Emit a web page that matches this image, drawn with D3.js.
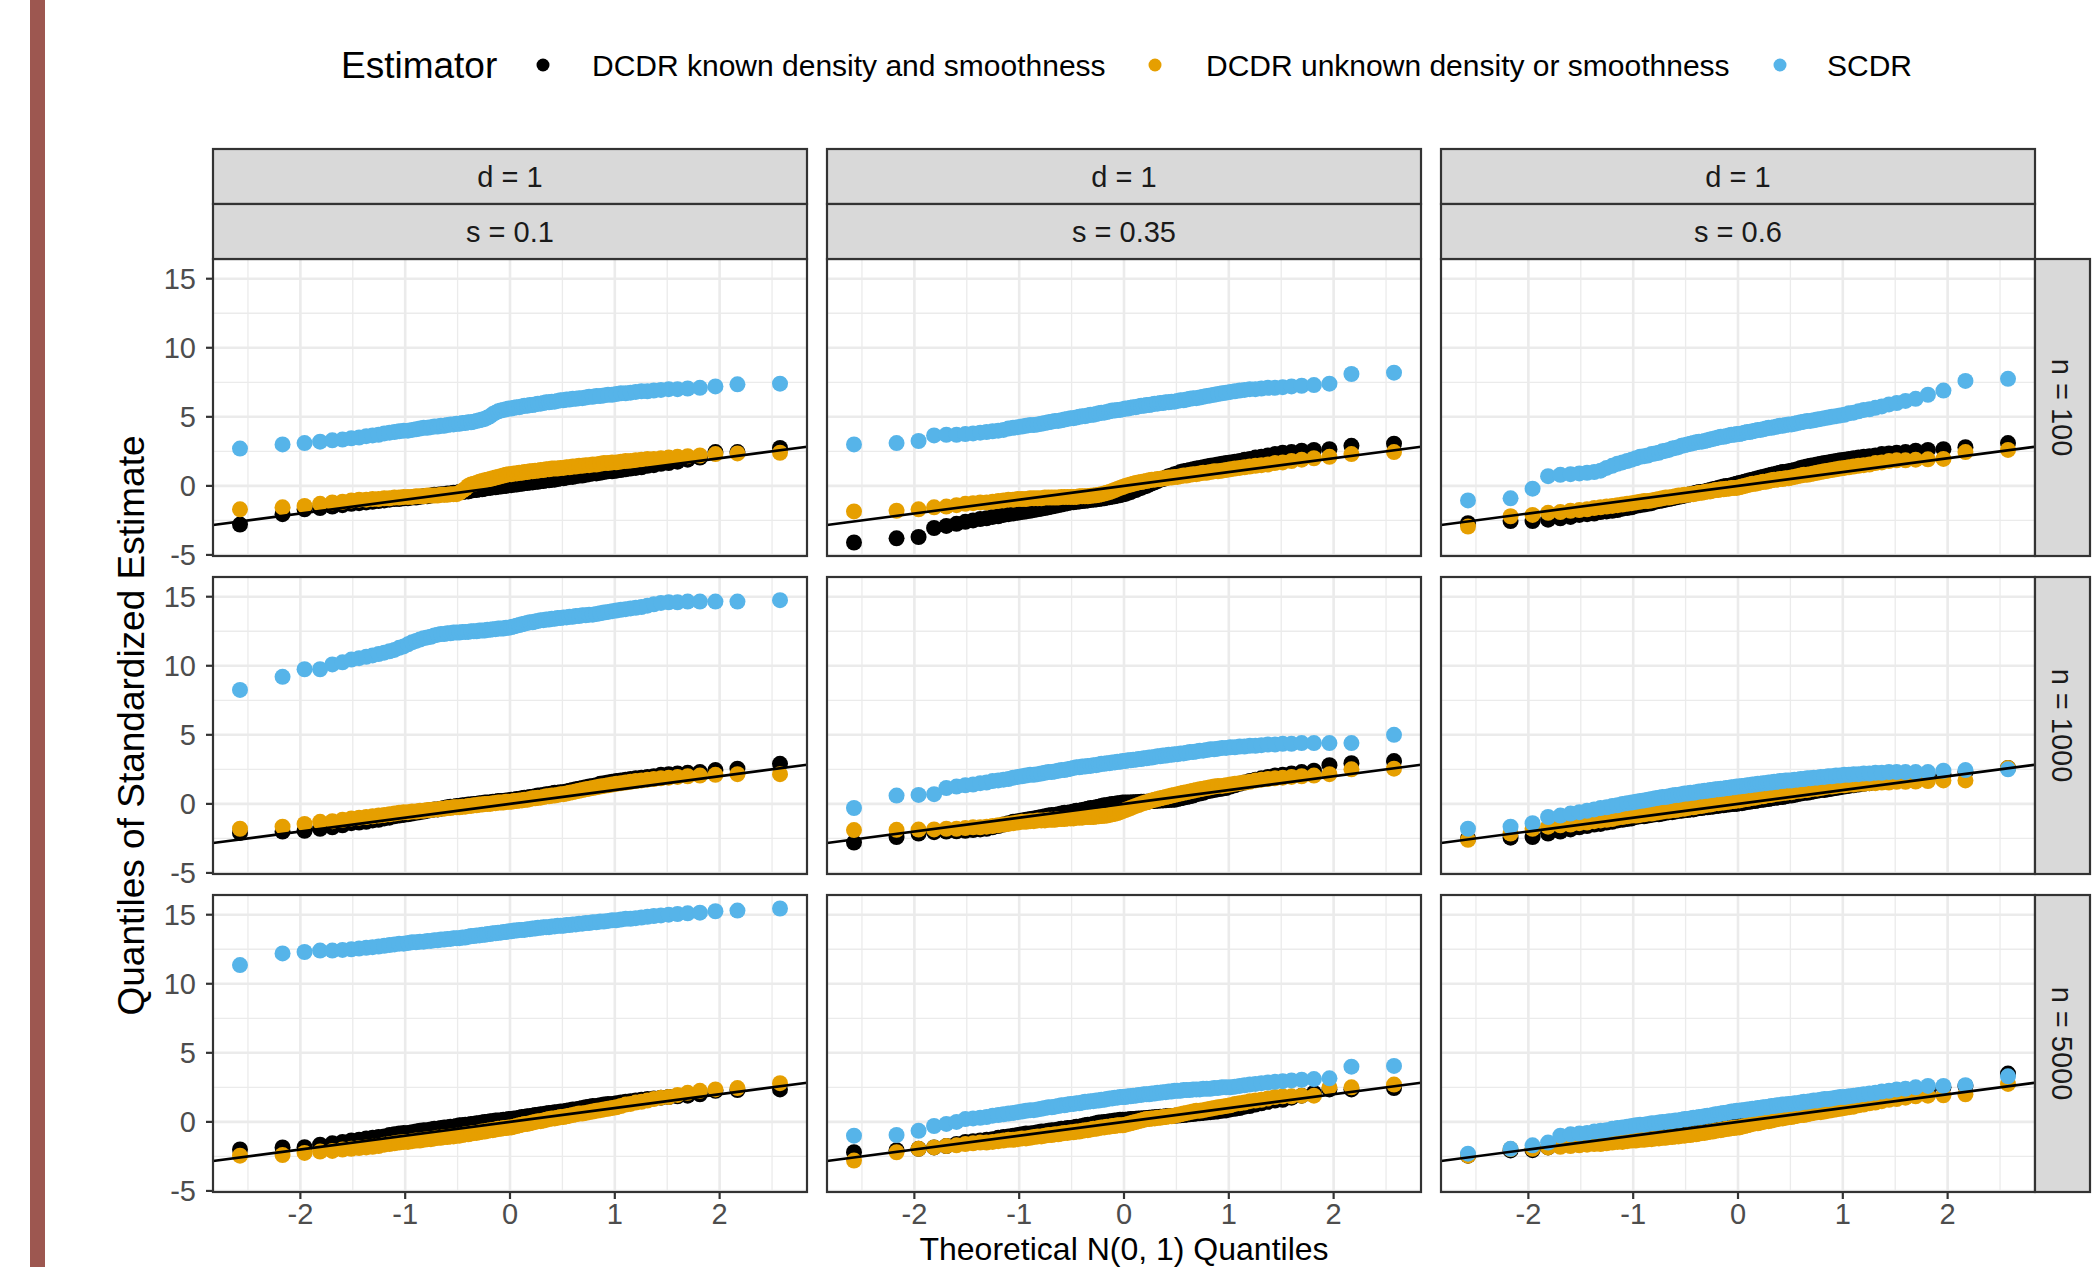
<!DOCTYPE html>
<html>
<head>
<meta charset="utf-8">
<script src="https://cdn.jsdelivr.net/npm/d3@7"></script>
<style>
  body { margin: 0; background: #fff; overflow: hidden; }
  svg { display: block; }
</style>
</head>
<body>
<div id="chart"></div>
<script>
// theoretical N(0,1) quantiles for the 100 sorted estimates in every panel
var qTheory = [-2.576,-2.170,-1.960,-1.812,-1.695,-1.598,-1.514,-1.440,-1.372,-1.311,
  -1.254,-1.200,-1.150,-1.103,-1.058,-1.015,-0.974,-0.935,-0.896,-0.860,
  -0.824,-0.789,-0.755,-0.722,-0.690,-0.659,-0.628,-0.598,-0.568,-0.539,
  -0.510,-0.482,-0.454,-0.426,-0.399,-0.372,-0.345,-0.319,-0.292,-0.266,
  -0.240,-0.215,-0.189,-0.164,-0.138,-0.113,-0.088,-0.063,-0.038,-0.013,
  0.013,0.038,0.063,0.088,0.113,0.138,0.164,0.189,0.215,0.240,
  0.266,0.292,0.319,0.345,0.372,0.399,0.426,0.454,0.482,0.510,
  0.539,0.568,0.598,0.628,0.659,0.690,0.722,0.755,0.789,0.824,
  0.860,0.896,0.935,0.974,1.015,1.058,1.103,1.150,1.200,1.254,
  1.311,1.372,1.440,1.514,1.598,1.695,1.812,1.960,2.170,2.576];

var dLabels = ["d = 1", "d = 1", "d = 1"];
var sLabels = ["s = 0.1", "s = 0.35", "s = 0.6"];
var nLabels = ["n = 100", "n = 1000", "n = 5000"];
var estimatorNames = ["DCDR known density and smoothness", "DCDR unknown density or smoothness", "SCDR"];
var estimatorColors = ["#000000", "#E69F00", "#56B4E9"];
var xTicks = [-2, -1, 0, 1, 2];
var yTicks = [-5, 0, 5, 10, 15];

// n = 100
var known_n100_s1 = [-2.8,-2.05,-1.7,-1.6,-1.5,-1.4,-1.3,-1.25,-1.2,-1.15,-1.1,-1.05,-1.0,-0.95,-0.95,-0.9,-0.9,-0.85,-0.85,-0.8,
  -0.75,-0.75,-0.7,-0.65,-0.65,-0.6,-0.6,-0.55,-0.55,-0.5,-0.5,-0.45,-0.45,-0.4,-0.4,-0.35,-0.3,-0.3,-0.25,-0.25,
  -0.2,-0.15,-0.15,-0.1,-0.1,-0.05,-0.05,0,0,0.05,0.05,0.1,0.1,0.15,0.15,0.2,0.2,0.25,0.25,0.3,
  0.3,0.35,0.35,0.4,0.4,0.45,0.45,0.5,0.55,0.55,0.6,0.65,0.65,0.7,0.75,0.75,0.8,0.85,0.9,0.9,
  0.95,1.0,1.05,1.05,1.1,1.15,1.2,1.25,1.3,1.35,1.45,1.5,1.6,1.65,1.75,1.9,2.05,2.45,2.45,2.75];
var unknown_n100_s1 = [-1.7,-1.55,-1.45,-1.3,-1.2,-1.15,-1.05,-1.0,-1.0,-0.95,-0.95,-0.9,-0.9,-0.85,-0.85,-0.8,-0.8,-0.8,-0.75,-0.75,
  -0.75,-0.7,-0.7,-0.7,-0.7,-0.65,-0.65,-0.65,-0.6,-0.6,-0.6,-0.5,-0.35,-0.2,0,0.1,0.15,0.2,0.3,0.35,
  0.4,0.45,0.5,0.55,0.6,0.65,0.7,0.75,0.8,0.85,0.85,0.9,0.9,0.95,0.95,1.0,1.0,1.05,1.05,1.1,
  1.1,1.15,1.15,1.2,1.2,1.25,1.25,1.25,1.3,1.3,1.35,1.35,1.4,1.4,1.45,1.45,1.5,1.5,1.55,1.55,
  1.6,1.65,1.65,1.7,1.7,1.75,1.8,1.8,1.85,1.9,1.95,1.95,2.0,2.05,2.1,2.15,2.2,2.3,2.35,2.4];
var scdr_n100_s1 = [2.7,3.0,3.1,3.2,3.3,3.35,3.45,3.5,3.6,3.65,3.7,3.8,3.85,3.9,3.95,4.0,4.0,4.05,4.1,4.15,
  4.2,4.2,4.25,4.3,4.3,4.35,4.35,4.4,4.45,4.45,4.5,4.5,4.55,4.55,4.6,4.6,4.65,4.7,4.75,4.8,
  4.85,4.95,5.05,5.2,5.3,5.4,5.45,5.5,5.55,5.6,5.6,5.65,5.7,5.7,5.75,5.8,5.8,5.85,5.85,5.9,
  5.95,5.95,6.0,6.05,6.05,6.1,6.1,6.15,6.2,6.2,6.25,6.25,6.3,6.3,6.35,6.35,6.4,6.45,6.45,6.5,
  6.5,6.55,6.6,6.6,6.65,6.7,6.7,6.75,6.8,6.85,6.85,6.9,6.95,7.0,7.0,7.05,7.1,7.2,7.35,7.4];
var known_n100_s35 = [-4.1,-3.8,-3.7,-3.05,-2.9,-2.75,-2.6,-2.5,-2.4,-2.35,-2.25,-2.2,-2.1,-2.05,-2.0,-1.95,-1.9,-1.85,-1.8,-1.75,
  -1.7,-1.65,-1.6,-1.55,-1.5,-1.45,-1.4,-1.35,-1.3,-1.25,-1.2,-1.18,-1.15,-1.13,-1.1,-1.08,-1.05,-1.02,-1.0,-0.98,
  -0.95,-0.92,-0.9,-0.85,-0.82,-0.78,-0.75,-0.7,-0.67,-0.62,-0.58,-0.5,-0.45,-0.35,-0.3,-0.2,-0.15,-0.05,0,0.1,
  0.2,0.25,0.35,0.45,0.5,0.6,0.7,0.75,0.85,0.9,1.0,1.05,1.1,1.15,1.2,1.25,1.3,1.35,1.4,1.45,
  1.5,1.55,1.6,1.65,1.7,1.75,1.8,1.9,1.95,2.05,2.1,2.2,2.3,2.4,2.45,2.55,2.6,2.65,2.9,3.05];
var unknown_n100_s35 = [-1.85,-1.8,-1.7,-1.55,-1.5,-1.4,-1.3,-1.25,-1.2,-1.2,-1.15,-1.1,-1.05,-1.0,-1.0,-0.95,-0.95,-0.95,-0.9,-0.9,
  -0.9,-0.9,-0.85,-0.85,-0.85,-0.85,-0.85,-0.8,-0.8,-0.8,-0.8,-0.8,-0.8,-0.75,-0.75,-0.75,-0.75,-0.72,-0.7,-0.68,
  -0.65,-0.6,-0.55,-0.5,-0.45,-0.38,-0.3,-0.22,-0.15,-0.08,0,0.05,0.1,0.15,0.2,0.25,0.28,0.32,0.35,0.4,
  0.45,0.45,0.5,0.5,0.55,0.55,0.6,0.6,0.65,0.65,0.7,0.75,0.75,0.8,0.85,0.85,0.9,0.95,0.95,1.0,
  1.05,1.05,1.1,1.15,1.2,1.25,1.3,1.35,1.4,1.45,1.5,1.55,1.65,1.7,1.8,1.9,2.0,2.1,2.3,2.45];
var scdr_n100_s35 = [3.0,3.1,3.25,3.65,3.7,3.7,3.75,3.8,3.85,3.9,3.95,4.0,4.05,4.15,4.2,4.25,4.3,4.35,4.4,4.4,
  4.45,4.5,4.55,4.6,4.65,4.7,4.7,4.75,4.8,4.85,4.9,4.9,4.95,5.0,5.05,5.05,5.1,5.15,5.15,5.2,
  5.25,5.3,5.3,5.35,5.4,5.45,5.45,5.5,5.5,5.55,5.6,5.6,5.65,5.7,5.7,5.75,5.8,5.8,5.85,5.85,
  5.9,5.95,5.95,6.0,6.0,6.05,6.05,6.1,6.1,6.15,6.2,6.2,6.25,6.3,6.35,6.35,6.4,6.45,6.5,6.55,
  6.6,6.65,6.7,6.75,6.8,6.85,6.9,6.95,7.0,7.0,7.05,7.1,7.1,7.15,7.2,7.25,7.3,7.4,8.1,8.2];
var known_n100_s6 = [-2.7,-2.55,-2.55,-2.45,-2.35,-2.25,-2.1,-2.05,-2.0,-1.9,-1.85,-1.8,-1.75,-1.65,-1.6,-1.55,-1.45,-1.4,-1.35,-1.3,
  -1.25,-1.15,-1.1,-1.05,-1.0,-0.95,-0.9,-0.85,-0.8,-0.75,-0.7,-0.65,-0.6,-0.55,-0.5,-0.45,-0.45,-0.4,-0.35,-0.3,
  -0.25,-0.2,-0.15,-0.1,-0.05,0,0,0.05,0.1,0.15,0.2,0.25,0.3,0.35,0.4,0.45,0.5,0.55,0.6,0.65,
  0.7,0.75,0.8,0.85,0.9,0.95,1.0,1.0,1.05,1.1,1.15,1.2,1.3,1.35,1.4,1.45,1.5,1.55,1.6,1.65,
  1.7,1.75,1.8,1.85,1.9,1.95,2.0,2.05,2.1,2.15,2.2,2.3,2.35,2.4,2.45,2.55,2.6,2.65,2.8,3.1];
var unknown_n100_s6 = [-2.95,-2.2,-2.1,-1.95,-1.9,-1.8,-1.75,-1.7,-1.6,-1.55,-1.5,-1.45,-1.4,-1.35,-1.3,-1.25,-1.2,-1.15,-1.1,-1.1,
  -1.05,-1.0,-0.95,-0.9,-0.85,-0.85,-0.8,-0.75,-0.7,-0.7,-0.65,-0.65,-0.6,-0.6,-0.55,-0.5,-0.5,-0.45,-0.4,-0.4,
  -0.35,-0.3,-0.3,-0.25,-0.25,-0.2,-0.2,-0.15,-0.15,-0.15,-0.1,-0.05,0,0.05,0.1,0.15,0.15,0.2,0.25,0.3,
  0.3,0.35,0.4,0.45,0.45,0.5,0.5,0.55,0.55,0.6,0.65,0.7,0.75,0.8,0.8,0.85,0.9,0.95,1.0,1.05,
  1.1,1.15,1.2,1.25,1.3,1.35,1.4,1.45,1.5,1.55,1.65,1.7,1.8,1.85,1.85,1.9,1.92,1.95,2.45,2.6];
var scdr_n100_s6 = [-1.05,-0.9,-0.2,0.7,0.8,0.85,0.9,0.95,1.0,1.1,1.3,1.45,1.6,1.7,1.8,1.9,2.0,2.1,2.15,2.2,
  2.3,2.35,2.4,2.5,2.55,2.6,2.7,2.75,2.8,2.9,2.95,3.0,3.05,3.1,3.15,3.2,3.2,3.25,3.3,3.35,
  3.4,3.45,3.5,3.55,3.55,3.6,3.65,3.7,3.7,3.75,3.75,3.8,3.85,3.9,3.9,3.95,4.0,4.05,4.05,4.1,
  4.15,4.2,4.2,4.25,4.3,4.35,4.35,4.4,4.45,4.45,4.5,4.55,4.6,4.65,4.7,4.7,4.75,4.8,4.85,4.9,
  4.95,5.0,5.05,5.1,5.15,5.25,5.3,5.4,5.5,5.55,5.65,5.75,5.9,6.0,6.15,6.3,6.6,6.9,7.6,7.75];

// n = 1000
var known_n1000_s1 = [-2.1,-2.0,-1.95,-1.8,-1.7,-1.55,-1.4,-1.35,-1.3,-1.2,-1.15,-1.05,-1.0,-0.9,-0.85,-0.8,-0.75,-0.7,-0.65,-0.6,
  -0.55,-0.5,-0.45,-0.4,-0.4,-0.35,-0.3,-0.25,-0.2,-0.2,-0.15,-0.15,-0.1,-0.1,-0.05,-0.05,0,0,0.05,0.05,
  0.1,0.1,0.1,0.15,0.15,0.2,0.2,0.2,0.25,0.25,0.3,0.3,0.35,0.35,0.4,0.45,0.45,0.5,0.5,0.55,
  0.6,0.6,0.65,0.7,0.7,0.75,0.8,0.8,0.85,0.85,0.9,0.95,1.0,1.05,1.1,1.15,1.2,1.25,1.3,1.35,
  1.45,1.5,1.55,1.6,1.65,1.7,1.75,1.8,1.85,1.9,1.95,2.0,2.1,2.15,2.2,2.25,2.3,2.45,2.55,2.9];
var unknown_n1000_s1 = [-1.8,-1.65,-1.45,-1.3,-1.25,-1.15,-1.05,-1.0,-0.95,-0.9,-0.85,-0.8,-0.75,-0.7,-0.65,-0.6,-0.6,-0.55,-0.55,-0.5,
  -0.5,-0.45,-0.45,-0.4,-0.4,-0.35,-0.35,-0.3,-0.3,-0.25,-0.25,-0.25,-0.2,-0.2,-0.15,-0.15,-0.1,-0.1,-0.05,-0.05,
  0,0,0,0.05,0.05,0.1,0.1,0.1,0.15,0.15,0.15,0.2,0.2,0.25,0.25,0.3,0.3,0.35,0.4,0.4,
  0.45,0.45,0.5,0.55,0.55,0.6,0.6,0.65,0.7,0.7,0.75,0.8,0.85,0.9,0.95,1.0,1.05,1.1,1.15,1.2,
  1.25,1.3,1.35,1.4,1.45,1.5,1.55,1.6,1.65,1.7,1.75,1.8,1.85,1.9,1.95,2.0,2.05,2.1,2.15,2.15];
var scdr_n1000_s1 = [8.25,9.2,9.75,9.75,10.1,10.25,10.45,10.55,10.65,10.75,10.85,10.95,11.05,11.15,11.3,11.4,11.55,11.7,11.8,11.9,
  12.0,12.05,12.1,12.2,12.25,12.3,12.3,12.35,12.35,12.4,12.4,12.4,12.45,12.45,12.45,12.5,12.5,12.5,12.55,12.55,
  12.55,12.6,12.6,12.65,12.65,12.7,12.7,12.7,12.75,12.75,12.8,12.85,12.9,12.95,13.0,13.05,13.1,13.15,13.15,13.2,
  13.25,13.3,13.3,13.35,13.35,13.4,13.4,13.45,13.45,13.5,13.5,13.55,13.55,13.6,13.6,13.65,13.65,13.7,13.7,13.75,
  13.8,13.85,13.9,13.95,14.0,14.05,14.1,14.15,14.2,14.25,14.35,14.45,14.55,14.6,14.6,14.65,14.65,14.65,14.65,14.75];
var known_n1000_s35 = [-2.8,-2.4,-2.15,-2.05,-2.0,-1.98,-1.95,-1.9,-1.85,-1.8,-1.7,-1.6,-1.5,-1.4,-1.3,-1.25,-1.2,-1.15,-1.1,-1.05,
  -1.0,-0.95,-0.9,-0.85,-0.8,-0.8,-0.75,-0.7,-0.65,-0.65,-0.6,-0.55,-0.5,-0.5,-0.45,-0.4,-0.35,-0.3,-0.3,-0.25,
  -0.2,-0.15,-0.1,-0.1,-0.05,0,0,0.05,0.05,0.1,0.1,0.1,0.1,0.12,0.12,0.14,0.15,0.15,0.16,0.18,
  0.2,0.2,0.22,0.24,0.25,0.26,0.28,0.3,0.3,0.35,0.4,0.45,0.5,0.55,0.6,0.7,0.75,0.8,0.9,0.95,
  1.0,1.05,1.1,1.15,1.25,1.35,1.45,1.55,1.65,1.75,1.85,1.95,2.05,2.1,2.2,2.3,2.4,2.8,2.95,3.1];
var unknown_n1000_s35 = [-1.9,-1.88,-1.86,-1.85,-1.8,-1.8,-1.75,-1.7,-1.7,-1.65,-1.6,-1.55,-1.5,-1.45,-1.4,-1.35,-1.3,-1.3,-1.25,-1.25,
  -1.2,-1.2,-1.2,-1.15,-1.15,-1.15,-1.1,-1.1,-1.1,-1.05,-1.05,-1.05,-1.0,-1.0,-1.0,-0.95,-0.95,-0.95,-0.95,-0.92,
  -0.9,-0.88,-0.86,-0.84,-0.8,-0.76,-0.72,-0.66,-0.6,-0.52,-0.45,-0.37,-0.3,-0.22,-0.15,-0.08,0,0.06,0.12,0.18,
  0.25,0.3,0.35,0.4,0.45,0.5,0.55,0.6,0.65,0.7,0.75,0.8,0.85,0.9,0.95,1.0,1.05,1.1,1.15,1.2,
  1.25,1.3,1.3,1.35,1.4,1.45,1.5,1.55,1.6,1.7,1.75,1.8,1.85,1.9,1.95,2.0,2.05,2.15,2.5,2.55];
var scdr_n1000_s35 = [-0.3,0.6,0.65,0.7,1.15,1.25,1.35,1.4,1.5,1.55,1.65,1.7,1.75,1.8,1.9,1.95,2.0,2.05,2.1,2.1,
  2.15,2.2,2.25,2.3,2.3,2.35,2.4,2.45,2.45,2.5,2.55,2.6,2.65,2.65,2.7,2.7,2.75,2.75,2.8,2.8,
  2.85,2.9,2.9,2.95,2.95,3.0,3.0,3.05,3.05,3.1,3.1,3.15,3.15,3.2,3.2,3.25,3.25,3.3,3.3,3.35,
  3.35,3.4,3.45,3.45,3.5,3.5,3.55,3.55,3.6,3.6,3.65,3.65,3.7,3.75,3.75,3.8,3.85,3.85,3.9,3.95,
  3.95,4.0,4.05,4.05,4.1,4.1,4.15,4.15,4.2,4.2,4.25,4.3,4.3,4.35,4.35,4.4,4.4,4.4,4.4,5.0];
var known_n1000_s6 = [-2.5,-2.45,-2.4,-2.15,-2.0,-1.85,-1.7,-1.6,-1.5,-1.45,-1.35,-1.3,-1.2,-1.15,-1.1,-1.05,-0.95,-0.9,-0.9,-0.85,
  -0.8,-0.75,-0.75,-0.7,-0.65,-0.6,-0.6,-0.55,-0.5,-0.5,-0.45,-0.45,-0.4,-0.4,-0.35,-0.3,-0.3,-0.25,-0.25,-0.2,
  -0.2,-0.15,-0.15,-0.1,-0.1,-0.05,-0.05,0,0,0,0.05,0.05,0.1,0.15,0.15,0.2,0.2,0.25,0.3,0.3,
  0.35,0.35,0.4,0.45,0.45,0.5,0.5,0.55,0.6,0.6,0.65,0.7,0.75,0.8,0.8,0.85,0.9,0.95,1.0,1.0,
  1.05,1.1,1.15,1.2,1.25,1.3,1.35,1.4,1.45,1.5,1.55,1.6,1.65,1.7,1.75,1.8,1.9,2.15,2.3,2.6];
var unknown_n1000_s6 = [-2.6,-2.15,-1.8,-1.65,-1.55,-1.5,-1.4,-1.35,-1.25,-1.2,-1.15,-1.1,-1.0,-0.95,-0.9,-0.85,-0.85,-0.8,-0.75,-0.7,
  -0.7,-0.65,-0.6,-0.55,-0.5,-0.5,-0.45,-0.45,-0.4,-0.35,-0.35,-0.3,-0.25,-0.25,-0.2,-0.15,-0.15,-0.1,-0.05,-0.05,
  0,0.05,0.05,0.1,0.1,0.15,0.15,0.2,0.2,0.25,0.25,0.3,0.35,0.35,0.4,0.45,0.45,0.5,0.55,0.55,
  0.6,0.65,0.65,0.7,0.75,0.75,0.8,0.8,0.85,0.85,0.9,0.95,0.95,1.0,1.0,1.05,1.1,1.1,1.15,1.2,
  1.25,1.25,1.3,1.35,1.35,1.4,1.4,1.45,1.45,1.5,1.5,1.55,1.55,1.6,1.6,1.62,1.65,1.7,1.7,2.6];
var scdr_n1000_s6 = [-1.8,-1.65,-1.4,-0.95,-0.85,-0.7,-0.6,-0.5,-0.4,-0.3,-0.25,-0.15,-0.1,0,0.05,0.1,0.15,0.2,0.25,0.3,
  0.35,0.4,0.45,0.5,0.5,0.55,0.6,0.65,0.65,0.7,0.75,0.75,0.8,0.8,0.85,0.9,0.9,0.95,0.95,1.0,
  1.0,1.05,1.05,1.1,1.1,1.15,1.15,1.2,1.2,1.25,1.25,1.3,1.3,1.35,1.35,1.4,1.4,1.45,1.45,1.5,
  1.5,1.55,1.55,1.6,1.6,1.65,1.65,1.7,1.7,1.7,1.75,1.75,1.8,1.8,1.85,1.85,1.9,1.9,1.95,1.95,
  2.0,2.0,2.05,2.05,2.1,2.1,2.15,2.15,2.2,2.2,2.25,2.25,2.3,2.3,2.3,2.3,2.3,2.4,2.45,2.5];

// n = 5000
var known_n5000_s1 = [-2.0,-1.85,-1.83,-1.65,-1.55,-1.45,-1.35,-1.3,-1.2,-1.15,-1.1,-1.05,-0.95,-0.9,-0.85,-0.8,-0.8,-0.75,-0.7,-0.65,
  -0.6,-0.6,-0.55,-0.5,-0.5,-0.45,-0.4,-0.4,-0.35,-0.35,-0.3,-0.25,-0.25,-0.2,-0.2,-0.15,-0.15,-0.1,-0.1,-0.05,
  0,0,0.05,0.05,0.1,0.1,0.1,0.15,0.15,0.2,0.2,0.25,0.25,0.3,0.35,0.35,0.4,0.4,0.45,0.5,
  0.5,0.55,0.55,0.6,0.65,0.65,0.7,0.7,0.75,0.75,0.8,0.85,0.9,0.9,0.95,1.0,1.05,1.1,1.15,1.15,
  1.2,1.25,1.3,1.3,1.35,1.4,1.45,1.5,1.55,1.6,1.65,1.7,1.75,1.8,1.85,1.9,2.0,2.25,2.3,2.35];
var unknown_n5000_s1 = [-2.45,-2.4,-2.25,-2.15,-2.1,-2.0,-1.95,-1.9,-1.85,-1.8,-1.75,-1.65,-1.6,-1.55,-1.5,-1.45,-1.45,-1.4,-1.35,-1.35,
  -1.3,-1.25,-1.25,-1.2,-1.15,-1.15,-1.1,-1.1,-1.05,-1.05,-1.0,-1.0,-0.95,-0.9,-0.9,-0.85,-0.8,-0.8,-0.75,-0.7,
  -0.7,-0.65,-0.6,-0.6,-0.55,-0.5,-0.5,-0.45,-0.45,-0.4,-0.4,-0.35,-0.3,-0.25,-0.2,-0.15,-0.15,-0.1,-0.05,0,
  0.05,0.05,0.1,0.15,0.2,0.25,0.25,0.3,0.35,0.35,0.4,0.45,0.5,0.55,0.6,0.6,0.65,0.7,0.75,0.8,
  0.85,0.9,0.95,1.0,1.05,1.15,1.25,1.3,1.4,1.45,1.55,1.65,1.75,1.8,1.95,2.1,2.25,2.35,2.45,2.8];
var scdr_n5000_s1 = [11.35,12.2,12.3,12.4,12.4,12.45,12.5,12.55,12.6,12.65,12.7,12.75,12.8,12.85,12.9,12.9,12.95,13.0,13.0,13.05,
  13.05,13.1,13.1,13.15,13.15,13.2,13.2,13.25,13.25,13.3,13.3,13.3,13.35,13.35,13.4,13.45,13.45,13.5,13.5,13.55,
  13.55,13.6,13.6,13.65,13.65,13.7,13.7,13.75,13.75,13.8,13.8,13.85,13.85,13.9,13.9,13.9,13.95,13.95,14.0,14.0,
  14.05,14.05,14.1,14.1,14.1,14.15,14.15,14.2,14.2,14.2,14.25,14.25,14.3,14.3,14.35,14.35,14.4,14.4,14.45,14.45,
  14.5,14.5,14.55,14.6,14.6,14.65,14.7,14.7,14.75,14.8,14.85,14.9,14.95,15.0,15.05,15.1,15.15,15.25,15.3,15.45];
var known_n5000_s35 = [-2.2,-2.05,-1.95,-1.85,-1.75,-1.6,-1.45,-1.4,-1.35,-1.3,-1.25,-1.15,-1.1,-1.05,-1.0,-0.95,-0.9,-0.85,-0.85,-0.8,
  -0.75,-0.7,-0.7,-0.65,-0.6,-0.6,-0.55,-0.5,-0.5,-0.45,-0.45,-0.4,-0.35,-0.35,-0.3,-0.25,-0.2,-0.2,-0.15,-0.1,
  -0.05,-0.05,0,0,0.05,0.05,0.1,0.1,0.15,0.15,0.16,0.18,0.2,0.21,0.22,0.24,0.25,0.27,0.28,0.3,
  0.32,0.33,0.35,0.37,0.38,0.4,0.42,0.43,0.45,0.46,0.48,0.5,0.52,0.55,0.57,0.6,0.62,0.65,0.68,0.7,
  0.73,0.76,0.8,0.83,0.9,0.95,1.0,1.1,1.15,1.25,1.35,1.45,1.55,1.6,1.75,1.9,2.1,2.35,2.35,2.45];
var unknown_n5000_s35 = [-2.8,-2.2,-1.95,-1.85,-1.75,-1.7,-1.6,-1.55,-1.5,-1.5,-1.45,-1.4,-1.35,-1.3,-1.3,-1.25,-1.2,-1.2,-1.15,-1.1,
  -1.05,-1.05,-1.0,-0.95,-0.95,-0.9,-0.9,-0.85,-0.8,-0.8,-0.75,-0.75,-0.7,-0.7,-0.65,-0.6,-0.6,-0.55,-0.5,-0.5,
  -0.45,-0.4,-0.4,-0.35,-0.35,-0.3,-0.3,-0.25,-0.25,-0.25,-0.2,-0.15,-0.1,-0.05,0,0.05,0.1,0.15,0.2,0.2,
  0.25,0.25,0.3,0.3,0.35,0.35,0.4,0.4,0.45,0.5,0.55,0.6,0.65,0.7,0.75,0.8,0.8,0.85,0.9,0.95,
  1.0,1.05,1.1,1.15,1.2,1.3,1.35,1.4,1.5,1.55,1.6,1.7,1.8,1.85,1.85,1.9,1.9,2.5,2.5,2.7];
var scdr_n5000_s35 = [-1.0,-0.95,-0.65,-0.3,-0.15,0,0.2,0.25,0.3,0.35,0.45,0.5,0.55,0.6,0.65,0.7,0.75,0.8,0.85,0.85,
  0.9,0.95,1.0,1.05,1.05,1.1,1.15,1.2,1.2,1.25,1.3,1.3,1.35,1.35,1.4,1.45,1.45,1.5,1.5,1.55,
  1.55,1.6,1.6,1.65,1.7,1.7,1.75,1.75,1.8,1.8,1.8,1.85,1.85,1.9,1.9,1.95,1.95,2.0,2.0,2.0,
  2.05,2.05,2.1,2.1,2.15,2.15,2.2,2.2,2.25,2.25,2.25,2.3,2.3,2.3,2.35,2.35,2.35,2.4,2.4,2.4,
  2.45,2.45,2.5,2.5,2.5,2.55,2.6,2.65,2.7,2.75,2.8,2.85,2.9,2.95,3.0,3.05,3.1,3.15,4.0,4.05];
var known_n5000_s6 = [-2.45,-2.07,-2.05,-1.85,-1.7,-1.5,-1.35,-1.3,-1.2,-1.15,-1.1,-1.0,-0.95,-0.9,-0.85,-0.8,-0.75,-0.7,-0.7,-0.65,
  -0.6,-0.55,-0.55,-0.5,-0.45,-0.45,-0.4,-0.35,-0.35,-0.3,-0.25,-0.25,-0.2,-0.2,-0.15,-0.15,-0.1,-0.1,-0.05,-0.05,
  0,0,0.05,0.05,0.1,0.1,0.15,0.15,0.2,0.2,0.2,0.25,0.3,0.3,0.35,0.4,0.4,0.45,0.5,0.5,
  0.55,0.6,0.6,0.65,0.7,0.7,0.75,0.75,0.8,0.8,0.85,0.9,0.95,1.0,1.0,1.05,1.1,1.15,1.2,1.25,
  1.3,1.3,1.35,1.4,1.45,1.5,1.55,1.6,1.65,1.7,1.8,1.85,1.95,2.0,2.1,2.2,2.25,2.5,2.6,3.5];
var unknown_n5000_s6 = [-2.45,-1.97,-1.95,-1.85,-1.8,-1.75,-1.7,-1.65,-1.6,-1.6,-1.55,-1.5,-1.45,-1.45,-1.4,-1.35,-1.35,-1.3,-1.3,-1.25,
  -1.25,-1.2,-1.2,-1.15,-1.15,-1.1,-1.1,-1.05,-1.05,-1.0,-1.0,-0.95,-0.95,-0.9,-0.9,-0.85,-0.8,-0.8,-0.75,-0.7,
  -0.7,-0.65,-0.6,-0.6,-0.55,-0.5,-0.5,-0.45,-0.45,-0.4,-0.4,-0.35,-0.3,-0.25,-0.2,-0.15,-0.1,-0.1,-0.05,0,
  0.05,0.05,0.1,0.15,0.2,0.25,0.25,0.3,0.35,0.35,0.4,0.45,0.5,0.5,0.55,0.6,0.65,0.7,0.7,0.75,
  0.8,0.85,0.9,0.95,1.0,1.05,1.1,1.2,1.25,1.35,1.4,1.5,1.6,1.65,1.75,1.85,1.9,1.92,2.0,2.75];
var scdr_n5000_s6 = [-2.3,-1.95,-1.7,-1.5,-1.0,-0.9,-0.85,-0.8,-0.7,-0.65,-0.6,-0.5,-0.45,-0.4,-0.35,-0.3,-0.25,-0.2,-0.2,-0.15,
  -0.1,-0.1,-0.05,0,0,0.05,0.05,0.1,0.1,0.15,0.2,0.2,0.25,0.3,0.3,0.35,0.35,0.4,0.45,0.45,
  0.5,0.55,0.55,0.6,0.65,0.65,0.7,0.75,0.75,0.8,0.8,0.85,0.85,0.9,0.9,0.95,0.95,1.0,1.0,1.05,
  1.05,1.1,1.15,1.15,1.2,1.2,1.25,1.25,1.3,1.3,1.35,1.35,1.4,1.45,1.45,1.5,1.55,1.55,1.6,1.65,
  1.65,1.7,1.75,1.8,1.8,1.85,1.9,1.95,2.0,2.05,2.1,2.2,2.25,2.35,2.4,2.5,2.6,2.6,2.65,3.3];

// facet table: row = n, col = s, series in legend order
var panels = [
  { row: 0, col: 0, series: [known_n100_s1, unknown_n100_s1, scdr_n100_s1] },
  { row: 0, col: 1, series: [known_n100_s35, unknown_n100_s35, scdr_n100_s35] },
  { row: 0, col: 2, series: [known_n100_s6, unknown_n100_s6, scdr_n100_s6] },
  { row: 1, col: 0, series: [known_n1000_s1, unknown_n1000_s1, scdr_n1000_s1] },
  { row: 1, col: 1, series: [known_n1000_s35, unknown_n1000_s35, scdr_n1000_s35] },
  { row: 1, col: 2, series: [known_n1000_s6, unknown_n1000_s6, scdr_n1000_s6] },
  { row: 2, col: 0, series: [known_n5000_s1, unknown_n5000_s1, scdr_n5000_s1] },
  { row: 2, col: 1, series: [known_n5000_s35, unknown_n5000_s35, scdr_n5000_s35] },
  { row: 2, col: 2, series: [known_n5000_s6, unknown_n5000_s6, scdr_n5000_s6] }
];

// layout
var width = 2094, height = 1267;
var panelW = 594, panelH = 297;
var colLeft = [213, 827, 1441];
var rowTop = [259, 577, 895];
var stripTop = 149, stripH = 55;
var rightStripX = 2035, rightStripW = 55;
var tickLen = 7;
var fontFamily = "'Liberation Sans', Arial, Helvetica, sans-serif";
var gridColor = "#EBEBEB";
var frameColor = "#333333";
var pointR = 8;

// ggplot-style scales with 5% expansion
var allY = [];
panels.forEach(function (p) { p.series.forEach(function (s) { allY = allY.concat(s); }); });
var xExt = d3.extent(qTheory), yExt = d3.extent(allY);
var xPad = (xExt[1] - xExt[0]) * 0.05, yPad = (yExt[1] - yExt[0]) * 0.05;
var x = d3.scaleLinear().domain([xExt[0] - xPad, xExt[1] + xPad]).range([0, panelW]);
var y = d3.scaleLinear().domain([yExt[0] - yPad, yExt[1] + yPad]).range([panelH, 0]);
var xMinor = [-2.5, -1.5, -0.5, 0.5, 1.5, 2.5];
var yMinor = [-2.5, 2.5, 7.5, 12.5];

var svg = d3.select("#chart").append("svg")
    .attr("width", width)
    .attr("height", height)
    .style("font-family", fontFamily);

svg.append("rect").attr("width", width).attr("height", height).attr("fill", "#ffffff");

// page edge bar on the left
svg.append("rect")
    .attr("x", 30).attr("y", 0)
    .attr("width", 15).attr("height", height)
    .attr("fill", "#9D5750");

// panels
panels.forEach(function (p) {
  var g = svg.append("g")
      .attr("transform", "translate(" + colLeft[p.col] + "," + rowTop[p.row] + ")");

  g.append("rect").attr("width", panelW).attr("height", panelH).attr("fill", "#ffffff");

  // minor grid
  g.selectAll("xMinor").data(xMinor).enter().append("line")
      .attr("x1", function (d) { return x(d); }).attr("x2", function (d) { return x(d); })
      .attr("y1", 0).attr("y2", panelH)
      .attr("stroke", gridColor).attr("stroke-width", 1.3);
  g.selectAll("yMinor").data(yMinor).enter().append("line")
      .attr("x1", 0).attr("x2", panelW)
      .attr("y1", function (d) { return y(d); }).attr("y2", function (d) { return y(d); })
      .attr("stroke", gridColor).attr("stroke-width", 1.3);

  // major grid
  g.selectAll("xMajor").data(xTicks).enter().append("line")
      .attr("x1", function (d) { return x(d); }).attr("x2", function (d) { return x(d); })
      .attr("y1", 0).attr("y2", panelH)
      .attr("stroke", gridColor).attr("stroke-width", 2.6);
  g.selectAll("yMajor").data(yTicks).enter().append("line")
      .attr("x1", 0).attr("x2", panelW)
      .attr("y1", function (d) { return y(d); }).attr("y2", function (d) { return y(d); })
      .attr("stroke", gridColor).attr("stroke-width", 2.6);

  // points, drawn in legend order
  p.series.forEach(function (vals, k) {
    g.selectAll("pt" + k).data(vals).enter().append("circle")
        .attr("cx", function (d, i) { return x(qTheory[i]); })
        .attr("cy", function (d) { return y(d); })
        .attr("r", pointR)
        .attr("fill", estimatorColors[k]);
  });

  // reference line y = x
  var xd = x.domain();
  g.append("line")
      .attr("x1", x(xd[0])).attr("y1", y(xd[0]))
      .attr("x2", x(xd[1])).attr("y2", y(xd[1]))
      .attr("stroke", "#000000").attr("stroke-width", 2.6);

  // border
  g.append("rect").attr("width", panelW).attr("height", panelH)
      .attr("fill", "none").attr("stroke", frameColor).attr("stroke-width", 2.2);
});

// top strips (two layers)
[0, 1, 2].forEach(function (c) {
  [dLabels[c], sLabels[c]].forEach(function (label, j) {
    var top = stripTop + j * stripH;
    svg.append("rect")
        .attr("x", colLeft[c]).attr("y", top)
        .attr("width", panelW).attr("height", stripH)
        .attr("fill", "#D9D9D9").attr("stroke", frameColor).attr("stroke-width", 2.2);
    svg.append("text")
        .attr("x", colLeft[c] + panelW / 2).attr("y", top + stripH / 2)
        .attr("dy", "0.35em")
        .attr("text-anchor", "middle")
        .attr("font-size", "29px")
        .attr("fill", "#1A1A1A")
        .text(label);
  });
});

// right strips
nLabels.forEach(function (label, r) {
  svg.append("rect")
      .attr("x", rightStripX).attr("y", rowTop[r])
      .attr("width", rightStripW).attr("height", panelH)
      .attr("fill", "#D9D9D9").attr("stroke", frameColor).attr("stroke-width", 2.2);
  svg.append("text")
      .attr("transform", "translate(" + (rightStripX + rightStripW / 2) + "," + (rowTop[r] + panelH / 2) + ") rotate(90)")
      .attr("dy", "0.35em")
      .attr("text-anchor", "middle")
      .attr("font-size", "29px")
      .attr("fill", "#1A1A1A")
      .text(label);
});

// y axis ticks and labels (left column)
rowTop.forEach(function (top) {
  yTicks.forEach(function (t) {
    svg.append("line")
        .attr("x1", colLeft[0] - tickLen).attr("x2", colLeft[0])
        .attr("y1", top + y(t)).attr("y2", top + y(t))
        .attr("stroke", frameColor).attr("stroke-width", 2.2);
    svg.append("text")
        .attr("x", colLeft[0] - tickLen - 10).attr("y", top + y(t))
        .attr("dy", "0.35em")
        .attr("text-anchor", "end")
        .attr("font-size", "29px")
        .attr("fill", "#4D4D4D")
        .text(String(t));
  });
});

// x axis ticks and labels (bottom row)
var bottom = rowTop[2] + panelH;
colLeft.forEach(function (left) {
  xTicks.forEach(function (t) {
    svg.append("line")
        .attr("x1", left + x(t)).attr("x2", left + x(t))
        .attr("y1", bottom).attr("y2", bottom + tickLen)
        .attr("stroke", frameColor).attr("stroke-width", 2.2);
    svg.append("text")
        .attr("x", left + x(t)).attr("y", bottom + 22)
        .attr("dy", "0.35em")
        .attr("text-anchor", "middle")
        .attr("font-size", "29px")
        .attr("fill", "#4D4D4D")
        .text(String(t));
  });
});

// axis titles
svg.append("text")
    .attr("transform", "translate(144," + ((rowTop[0] + bottom) / 2) + ") rotate(-90)")
    .attr("text-anchor", "middle")
    .attr("font-size", "37px")
    .attr("fill", "#000000")
    .text("Quantiles of Standardized Estimate");
svg.append("text")
    .attr("x", (colLeft[0] + colLeft[2] + panelW) / 2).attr("y", 1260)
    .attr("text-anchor", "middle")
    .attr("font-size", "32px")
    .attr("fill", "#000000")
    .text("Theoretical N(0, 1) Quantiles");

// legend
var legendY = 65;
var legendKeyX = [543, 1155, 1780];
var legendTextX = [592, 1206, 1827];
svg.append("text")
    .attr("x", 341).attr("y", legendY)
    .attr("dy", "0.35em")
    .attr("font-size", "37px")
    .attr("fill", "#000000")
    .text("Estimator");
estimatorNames.forEach(function (name, k) {
  svg.append("circle")
      .attr("cx", legendKeyX[k]).attr("cy", legendY)
      .attr("r", 6.5)
      .attr("fill", estimatorColors[k]);
  svg.append("text")
      .attr("x", legendTextX[k]).attr("y", legendY)
      .attr("dy", "0.35em")
      .attr("font-size", "30px")
      .attr("fill", "#000000")
      .text(name);
});
</script>
</body>
</html>
